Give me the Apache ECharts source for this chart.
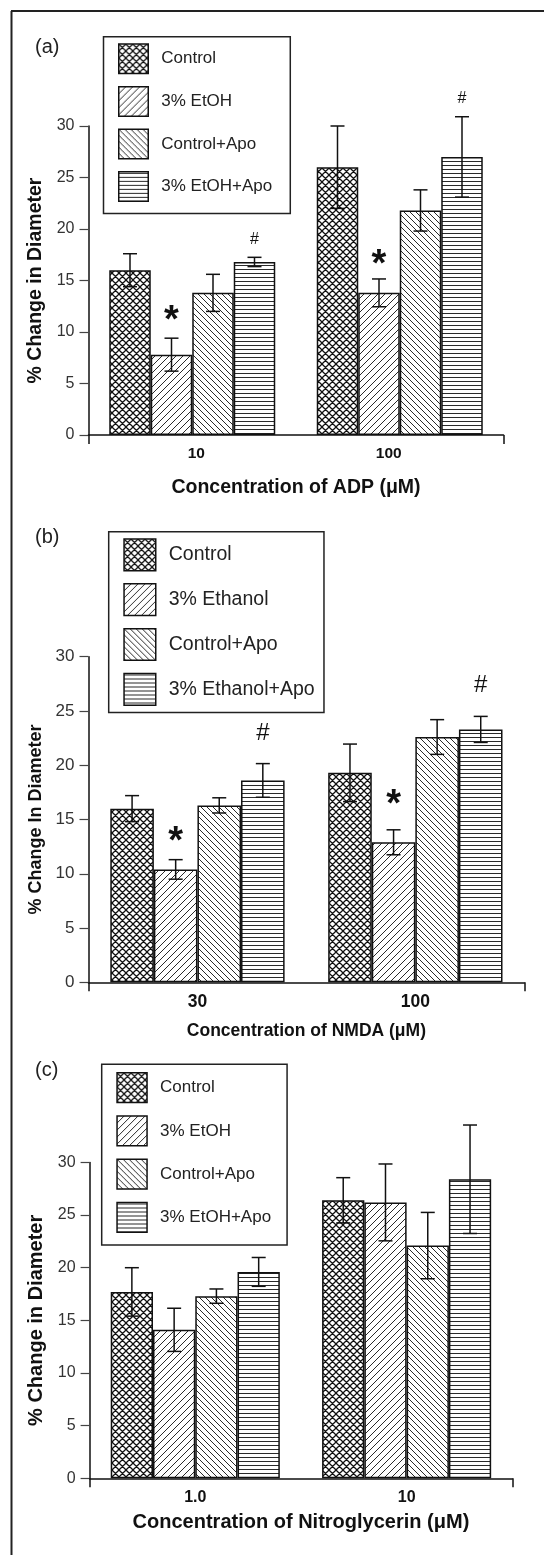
<!DOCTYPE html>
<html><head><meta charset="utf-8">
<script src="https://cdn.jsdelivr.net/npm/echarts@6/dist/echarts.min.js"></script>
<style>html,body{margin:0;padding:0;background:#fff}#c{width:544px;height:1555px}</style>
</head><body><div id="c"></div>
<script>
const FONT = '"Liberation Sans", Arial, Helvetica, sans-serif';

// ---------- Panel (a) : ADP ----------
const catsA = ['10', '100'];
const namesA = ['Control', '3% EtOH', 'Control+Apo', '3% EtOH+Apo'];
const meanA = [[16.0, 26.0], [7.8, 13.8], [13.8, 21.8], [16.8, 27.0]];
const errA  = [[1.6, 4.0], [1.6, 1.35], [1.8, 2.0], [0.45, 3.9]];
const noteA  = [['', ''], ['*', '*'], ['', ''], ['#', '#']];
const noteYA = [[null, null], [11.9, 17.3], [null, null], [19.0, 32.7]];

// ---------- Panel (b) : NMDA ----------
const catsB = ['30', '100'];
const namesB = ['Control', '3% Ethanol', 'Control+Apo', '3% Ethanol+Apo'];
const meanB = [[16.0, 19.3], [10.4, 12.9], [16.3, 22.6], [18.6, 23.3]];
const errB  = [[1.2, 2.65], [0.9, 1.15], [0.7, 1.6], [1.55, 1.2]];
const noteB  = [['', ''], ['*', '*'], ['', ''], ['#', '#']];
const noteYB = [[null, null], [13.7, 17.1], [null, null], [22.9, 27.4]];

// ---------- Panel (c) : Nitroglycerin ----------
const catsC = ['1.0', '10'];
const namesC = ['Control', '3% EtOH', 'Control+Apo', '3% EtOH+Apo'];
const meanC = [[17.7, 26.4], [14.1, 26.2], [17.3, 22.1], [19.6, 28.4]];
const errC  = [[2.3, 2.15], [2.05, 3.65], [0.68, 3.15], [1.37, 5.15]];
const noteC  = [['', ''], ['', ''], ['', ''], ['', '']];
const noteYC = [[null, null], [null, null], [null, null], [null, null]];

const yMin = 0, yMax = 30, yStep = 5;

// ---------- hatch patterns ----------
function makePattern(kind) {
  const s = {cross: 7, fwd: 7, back: 6, horiz: 4}[kind];
  const cv = document.createElement('canvas');
  cv.width = s; cv.height = s;
  const g = cv.getContext('2d');
  g.fillStyle = '#fff'; g.fillRect(0, 0, s, s);
  g.strokeStyle = kind === 'cross' ? '#111' : '#2a2a2a';
  g.lineWidth = kind === 'cross' ? 1.25 : 1;
  g.beginPath();
  if (kind === 'cross' || kind === 'fwd') {
    g.moveTo(0, s); g.lineTo(s, 0);
    g.moveTo(-1, 1); g.lineTo(1, -1);
    g.moveTo(s - 1, s + 1); g.lineTo(s + 1, s - 1);
  }
  if (kind === 'cross' || kind === 'back') {
    g.moveTo(0, 0); g.lineTo(s, s);
    g.moveTo(-1, s - 1); g.lineTo(1, s + 1);
    g.moveTo(s - 1, -1); g.lineTo(s + 1, 1);
  }
  if (kind === 'horiz') {
    g.moveTo(0, 1.5); g.lineTo(s, 1.5);
  }
  g.stroke();
  return {image: cv, repeat: 'repeat'};
}
const patterns = [makePattern('cross'), makePattern('fwd'), makePattern('back'), makePattern('horiz')];

const panels = [
  {cats: catsA, names: namesA, mean: meanA, err: errA, note: noteA, noteY: noteYA,
   grid: {left: 88.5, top: 126, width: 415, height: 309},
   yName: '% Change in Diameter', yNameSize: 19.5, yLabSize: 16,
   xName: 'Concentration of ADP (\u03bcM)', xNameSize: 19.5, xNameGap: 43, xLabSize: 15.5,
   labShift: [8, -22],
   hashSize: 16, starSize: 38,
   legend: {left: 103.5, top: 36.7, padding: [6.6, 18, 11.3, 14.5], gap: 11.6, w: 29.5, h: 29.5, font: 17},
   tag: '(a)', tagTop: 37},
  {cats: catsB, names: namesB, mean: meanB, err: errB, note: noteB, noteY: noteYB,
   grid: {left: 88.5, top: 656.7, width: 435.8, height: 325.6},
   yName: '% Change In Diameter', yNameSize: 18, yLabSize: 17,
   xName: 'Concentration of NMDA (\u03bcM)', xNameSize: 17.5, xNameGap: 39.5, xLabSize: 17.5,
   labShift: [0, 0],
   hashSize: 24, starSize: 38,
   legend: {left: 108.7, top: 531.7, padding: [6.6, 9.4, 6.7, 14.6], gap: 11.6, w: 31.7, h: 31.7, font: 19.5},
   tag: '(b)', tagTop: 527},
  {cats: catsC, names: namesC, mean: meanC, err: errC, note: noteC, noteY: noteYC,
   grid: {left: 89.6, top: 1162.4, width: 422.7, height: 315.9},
   yName: '% Change in Diameter', yNameSize: 20, yLabSize: 16,
   xName: 'Concentration of Nitroglycerin (\u03bcM)', xNameSize: 20, xNameGap: 34.5, xLabSize: 16,
   labShift: [0, 0],
   hashSize: 16, starSize: 38,
   legend: {left: 101.7, top: 1064.3, padding: [7.8, 16, 12, 14.6], gap: 12, w: 30, h: 29.7, font: 17},
   tag: '(c)', tagTop: 1060}
];

const option = {
  animation: false,
  backgroundColor: '#fff',
  textStyle: {fontFamily: FONT},
  grid: [], xAxis: [], yAxis: [], series: [], legend: [], title: [],
  graphic: [
    {type: 'line', shape: {x1: 11.5, y1: 11, x2: 11.5, y2: 1555}, style: {stroke: '#222', lineWidth: 2}},
    {type: 'line', shape: {x1: 11, y1: 11, x2: 544, y2: 11}, style: {stroke: '#222', lineWidth: 2}}
  ]
};

panels.forEach((p, gi) => {
  option.grid.push(Object.assign({containLabel: false}, p.grid));
  const labStyle = {fontSize: p.xLabSize, fontWeight: 'bold', color: '#111', fontFamily: FONT};
  const rich = {};
  p.labShift.forEach((d, i) => {
    rich['s' + i] = Object.assign({padding: d >= 0 ? [0, 0, 0, d] : [0, -d, 0, 0]}, labStyle);
  });
  option.xAxis.push({
    type: 'category', gridIndex: gi, data: p.cats,
    axisLine: {show: true, lineStyle: {color: '#111', width: 1.5}},
    axisTick: {show: false},
    axisLabel: Object.assign({margin: 11, rich, formatter: (v, i) => '{s' + i + '|' + v + '}'}, labStyle),
    name: p.xName, nameLocation: 'middle', nameGap: p.xNameGap,
    nameTextStyle: {fontSize: p.xNameSize, fontWeight: 'bold', color: '#111', fontFamily: FONT}
  });
  option.xAxis.push({
    type: 'value', gridIndex: gi, min: 0, max: 1, interval: 1, position: 'bottom',
    axisLine: {show: false}, axisLabel: {show: false}, splitLine: {show: false},
    axisTick: {show: true, length: 9, lineStyle: {color: '#111', width: 1.5}}
  });
  option.yAxis.push({
    type: 'value', gridIndex: gi, min: yMin, max: yMax, interval: yStep,
    axisLine: {show: true, lineStyle: {color: '#111', width: 1.5}},
    axisTick: {show: true, length: 9, lineStyle: {color: '#444', width: 1.2}},
    axisLabel: {fontSize: p.yLabSize, color: '#333', margin: 14, fontFamily: FONT},
    splitLine: {show: false},
    name: p.yName, nameLocation: 'middle', nameGap: 35,
    nameTextStyle: {fontSize: p.yNameSize, fontWeight: 'bold', color: '#111', fontFamily: FONT}
  });
  p.names.forEach((n, s) => {
    option.series.push({
      type: 'bar', name: n, xAxisIndex: gi * 2, yAxisIndex: gi,
      data: p.mean[s], barGap: '0%', barCategoryGap: '20%',
      itemStyle: {color: patterns[s], borderColor: '#111', borderWidth: 1.5},
      emphasis: {disabled: true}, silent: true
    });
  });
  const errData = [];
  p.names.forEach((n, s) => p.cats.forEach((c, ci) => {
    const ny = p.noteY[s][ci];
    errData.push([ci, p.mean[s][ci], p.err[s][ci], s, ny == null ? NaN : ny]);
  }));
  option.series.push({
    type: 'custom', xAxisIndex: gi * 2, yAxisIndex: gi, clip: false, z: 10, silent: true,
    data: errData,
    renderItem: (params, api) => {
      const ci = api.value(0), m = api.value(1), e = api.value(2), s = api.value(3), ny = api.value(4);
      const band = api.size([1, 0])[0];
      const w = band * 0.8 / 4;
      const cx = api.coord([ci, 0])[0] + (s - 1.5) * w;
      const yT = api.coord([ci, m + e])[1], yB = api.coord([ci, m - e])[1];
      const cap = 7;
      const st = {stroke: '#111', lineWidth: 1.5};
      const children = [
        {type: 'line', shape: {x1: cx, y1: yT, x2: cx, y2: yB}, style: st},
        {type: 'line', shape: {x1: cx - cap, y1: yT, x2: cx + cap, y2: yT}, style: st},
        {type: 'line', shape: {x1: cx - cap, y1: yB, x2: cx + cap, y2: yB}, style: st}
      ];
      const t = p.note[s][ci];
      if (t && !isNaN(ny)) {
        const yy = api.coord([ci, ny])[1];
        const isStar = t === '*';
        const fs = isStar ? p.starSize : p.hashSize;
        children.push({type: 'text', x: cx, y: yy + (isStar ? fs * 0.23 : 0), style: {
          text: t, fill: '#111', font: (isStar ? 'bold ' : '') + fs + 'px ' + FONT,
          align: 'center', verticalAlign: 'middle'}});
      }
      return {type: 'group', children};
    }
  });
  const L = p.legend;
  option.legend.push({
    data: p.names, orient: 'vertical', left: L.left, top: L.top, padding: L.padding,
    itemGap: L.gap, itemWidth: L.w, itemHeight: L.h, icon: 'rect', selectedMode: false,
    borderColor: '#222', borderWidth: 1.5, backgroundColor: '#fff',
    itemStyle: {borderColor: '#111', borderWidth: 1.5},
    textStyle: {fontSize: L.font, color: '#222', fontFamily: FONT, padding: [0, 0, 0, 8]}
  });
  option.title.push({text: p.tag, left: 35, top: p.tagTop, padding: 0,
    textStyle: {fontSize: 20, fontWeight: 'normal', color: '#222', fontFamily: FONT}});
});

const chart = echarts.init(document.getElementById('c'), null, {renderer: 'canvas'});
chart.setOption(option);
</script></body></html>
